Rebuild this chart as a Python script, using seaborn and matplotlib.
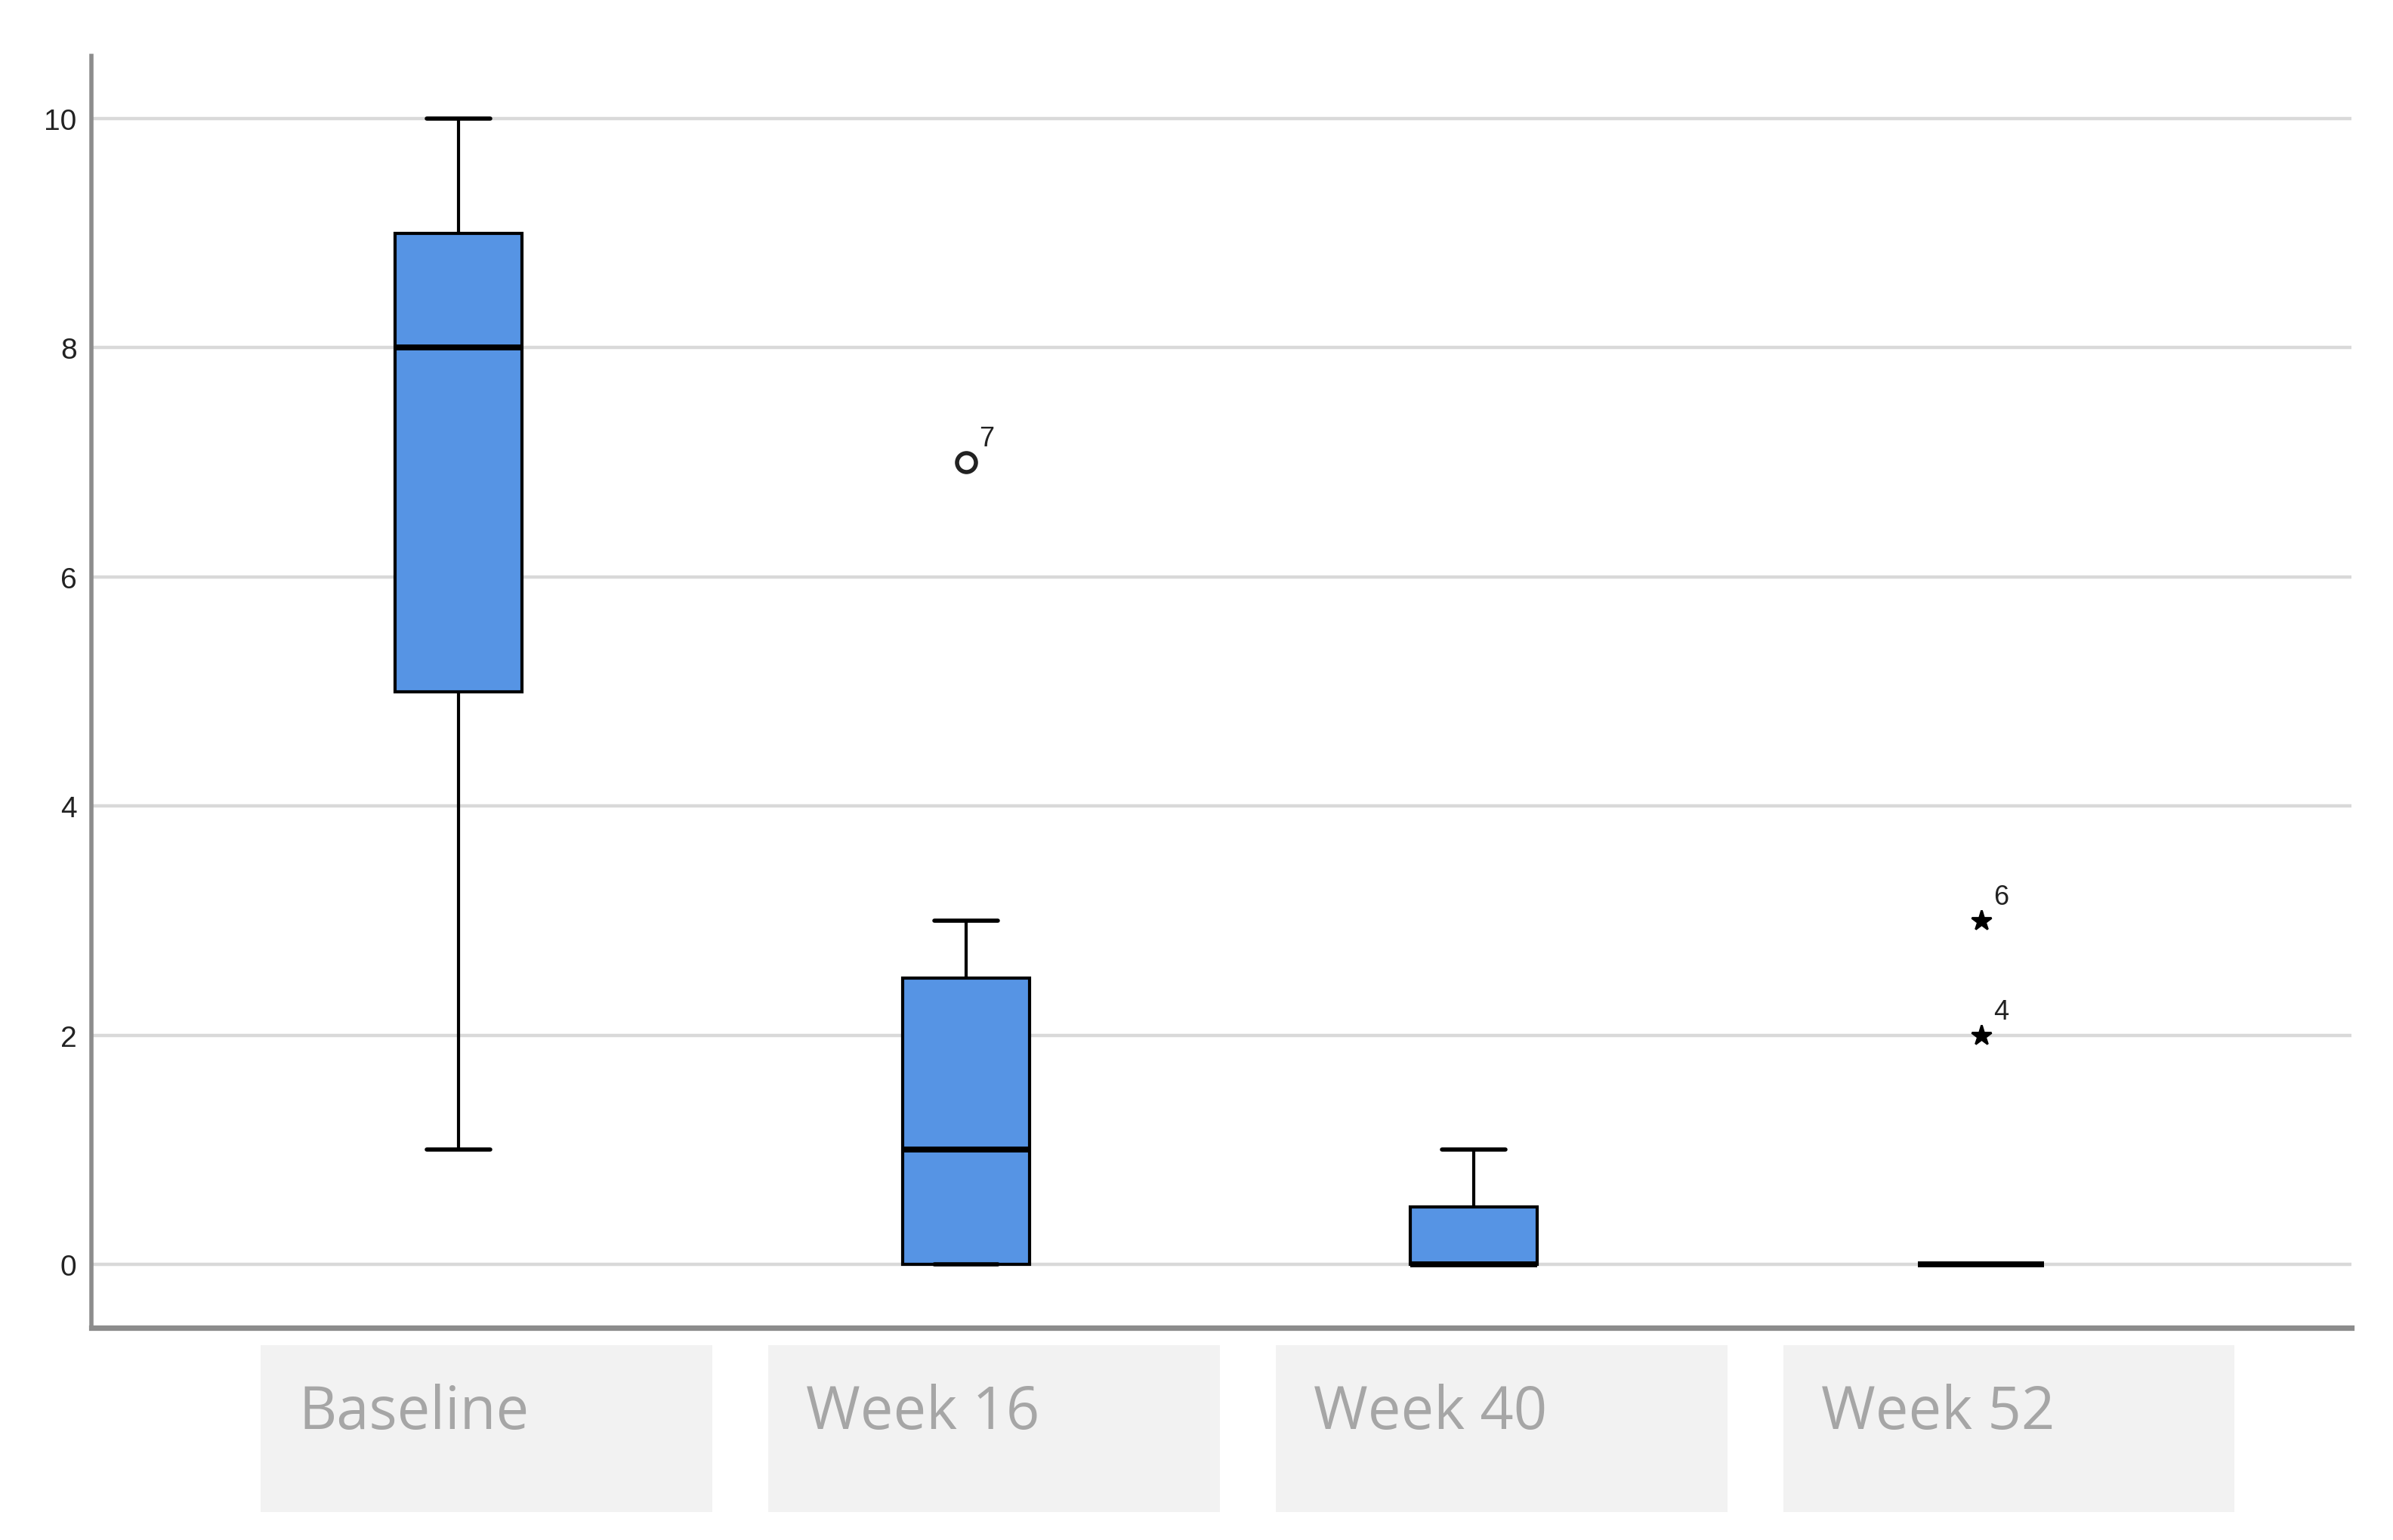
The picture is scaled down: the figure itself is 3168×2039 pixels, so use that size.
import numpy as np
import pandas as pd
import seaborn as sns
import matplotlib.pyplot as plt
import matplotlib.patches as mpatches
import matplotlib.transforms as mtransforms

# per-patient scores (case numbers 1..11), read to match the box summaries
timepoints = ['Baseline', 'Week 16', 'Week 40', 'Week 52']
case_ids = list(range(1, 12))
baseline = [8, 9, 5, 10, 6, 9, 10, 3, 8, 5, 1]
week_16 = [0, 2, 0, 3, 1, 3, 7, 0, 2, 1, 0]
week_40 = [0, 0, 0, 1, 0, 1, 1, 0, 0, 0, 0]
week_52 = [0, 0, 0, 2, 0, 3, 0, 0, 0, 0, 0]
y_ticks = [0, 2, 4, 6, 8, 10]

df = pd.DataFrame({'case': case_ids * len(timepoints),
                   'time': np.repeat(timepoints, len(case_ids)),
                   'score': baseline + week_16 + week_40 + week_52})

sns.set_style('white')
plt.rcParams['font.family'] = ['Liberation Sans', 'DejaVu Sans']

fig = plt.figure(figsize=(15.84, 10.2), dpi=200)
ax = fig.add_axes([0.0382, 0.1377, 0.9444, 0.8255])

sns.boxplot(data=df, x='time', y='score', order=timepoints, ax=ax,
            color='#5694e4', saturation=1, width=0.25, linecolor='black',
            linewidth=1.5, showfliers=False, whis=1.5,
            medianprops={'linewidth': 2.8}, capprops={'linewidth': 2.0})

# SPSS style outliers: circle beyond 1.5 IQR, star beyond 3 IQR, labelled by case
for i, t in enumerate(timepoints):
    sub = df[df['time'] == t]
    q1, q3 = np.percentile(sub['score'], [25, 75])
    iqr = q3 - q1
    for case, v in zip(sub['case'], sub['score']):
        if v > q3 + 1.5 * iqr or v < q1 - 1.5 * iqr:
            extreme = v > q3 + 3 * iqr or v < q1 - 3 * iqr
            if extreme:
                ax.plot(i, v, marker='*', color='black', markersize=10, zorder=5)
            else:
                ax.plot(i, v, marker='o', markerfacecolor='white', markeredgecolor='#222222',
                        markeredgewidth=2, markersize=9, zorder=5)
            ax.annotate(str(case), (i, v), xytext=(6, 5), textcoords='offset points',
                        ha='left', va='bottom', fontsize=13, color='#222222')

ax.set_axisbelow(True)
ax.yaxis.grid(True, color='#d9d9d9', linewidth=1.6)
ax.xaxis.grid(False)
ax.set_ylim(-0.554, 10.547)
ax.set_xlim(-0.724, 3.73)
ax.set_yticks(y_ticks)
ax.set_xlabel('')
ax.set_ylabel('')
ax.tick_params(axis='y', length=0, pad=7, labelsize=14, labelcolor='#222222')
ax.tick_params(axis='x', length=0, labelbottom=False)

sns.despine(ax=ax)
ax.spines['left'].set_color('#8c8c8c')
ax.spines['left'].set_linewidth(2.0)
ax.spines['bottom'].set_color('#8c8c8c')
ax.spines['bottom'].set_linewidth(2.6)

# category labels in grey boxes under the axis
trans = mtransforms.blended_transform_factory(ax.transData, ax.transAxes)
for i, t in enumerate(timepoints):
    ax.add_patch(mpatches.Rectangle((i - 0.39, -0.1449), 0.89, 0.1312, transform=trans,
                                    facecolor='#f2f2f2', edgecolor='none', clip_on=False))
    ax.text(i - 0.315, -0.079, t, transform=trans, ha='left', va='baseline',
            fontsize=28, color='#a6a6a6', family=['Open Sans', 'DejaVu Sans'])

plt.savefig('out.png', dpi=200)
